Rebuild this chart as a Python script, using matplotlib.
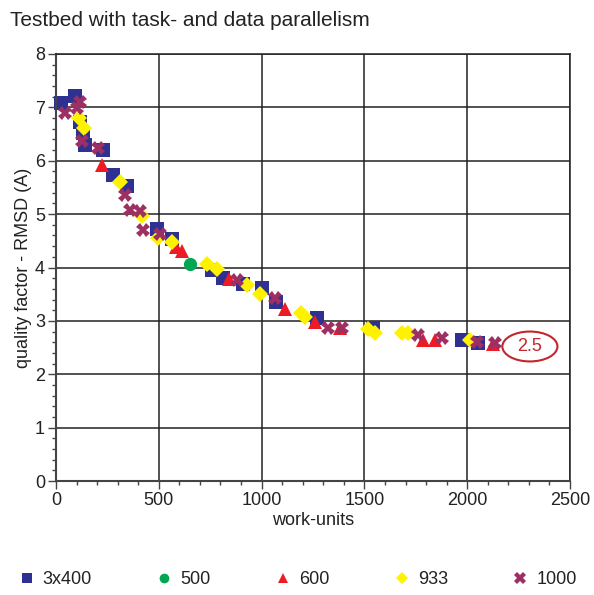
import matplotlib
matplotlib.use("Agg")
import matplotlib.pyplot as plt
from matplotlib.patches import Ellipse
from matplotlib.ticker import MultipleLocator
from matplotlib.lines import Line2D

plt.rcParams['font.family'] = ['Liberation Sans', 'DejaVu Sans']

title = "Testbed with task- and data parallelism"
xlabel = "work-units"
ylabel = "quality factor - RMSD (A)"

# series: 3x400 (squares)
sq_x = [23, 92, 117, 133, 141, 230, 279, 345, 490, 563, 757, 814, 911, 1000, 1070, 1268, 1544, 1973, 2054]
sq_y = [7.08, 7.22, 6.73, 6.52, 6.29, 6.20, 5.73, 5.52, 4.72, 4.53, 3.96, 3.80, 3.70, 3.61, 3.35, 3.05, 2.87, 2.64, 2.59]
# series: 500 (circle)
ci_x = [652]
ci_y = [4.07]
# series: 600 (triangles)
tr_x = [225, 585, 612, 843, 1114, 1260, 1381, 1783, 1843, 2127]
tr_y = [5.92, 4.38, 4.30, 3.78, 3.23, 2.97, 2.86, 2.65, 2.65, 2.56]
# series: 933 (diamonds)
di_x = [112, 135, 311, 417, 498, 563, 733, 781, 927, 992, 1190, 1211, 1519, 1552, 1681, 1713, 2014]
di_y = [6.80, 6.62, 5.61, 4.96, 4.55, 4.47, 4.07, 3.98, 3.67, 3.50, 3.15, 3.07, 2.84, 2.78, 2.77, 2.77, 2.64]
# series: 1000 (crosses)
cr_x = [44, 100, 117, 125, 206, 336, 360, 409, 425, 506, 879, 1065, 1324, 1390, 1762, 1876, 2046, 2135]
cr_y = [6.90, 6.99, 7.11, 6.37, 6.24, 5.36, 5.08, 5.05, 4.71, 4.63, 3.76, 3.42, 2.87, 2.87, 2.74, 2.67, 2.61, 2.59]

labels = ["3x400", "500", "600", "933", "1000"]
annot_text = "2.5"
annot_xy = (2305, 2.52)

C_SQ = "#2E3192"
C_CI = "#00A651"
C_TR = "#ED1C24"
C_DI = "#FFF200"
C_CR = "#9E2F62"

fig = plt.figure(figsize=(5.94, 5.95), dpi=100)
ax = fig.add_axes([56/594, 1-481/595, 514/594, 427/595])

ax.set_xlim(0, 2500)
ax.set_ylim(0, 8)
ax.xaxis.set_major_locator(MultipleLocator(500))
ax.xaxis.set_minor_locator(MultipleLocator(100))
ax.yaxis.set_major_locator(MultipleLocator(1))
ax.yaxis.set_minor_locator(MultipleLocator(0.2))
ax.grid(True, which='major', color='#222222', linewidth=1.1)
ax.set_axisbelow(True)

for s in ['top', 'right']:
    ax.spines[s].set_color('#222222')
    ax.spines[s].set_linewidth(1.1)
for s in ['left', 'bottom']:
    ax.spines[s].set_color('#444444')
    ax.spines[s].set_linewidth(1.5)

ax.tick_params(axis='both', which='major', direction='out', length=6, width=1, color='#444444',
               labelsize=13, labelcolor='#222222', pad=2)
ax.tick_params(axis='both', which='minor', direction='out', length=3, width=1, color='#444444')
ax.tick_params(top=False, right=False, which='both')

kw = dict(linestyle='none', clip_on=False, markeredgewidth=0)
ax.plot(sq_x, sq_y, marker='s', color=C_SQ, markersize=9.5, **kw)
ax.plot(ci_x, ci_y, marker='o', color=C_CI, markersize=9.5, **kw)
ax.plot(tr_x, tr_y, marker='^', color=C_TR, markersize=10, **kw)
ax.plot(di_x, di_y, marker='D', color=C_DI, markersize=8, **kw)
ax.plot(cr_x, cr_y, marker='X', color=C_CR, markersize=10, **kw)

ell = Ellipse(annot_xy, width=268, height=0.56, fill=False, edgecolor='#C1272D', linewidth=1.5)
ax.add_patch(ell)
ax.text(annot_xy[0], annot_xy[1], annot_text, color='#C1272D', fontsize=13, ha='center', va='center')

ax.set_xlabel(xlabel, fontsize=13, color='#222222', labelpad=2)
ax.set_ylabel(ylabel, fontsize=13, color='#222222', labelpad=2)
fig.text(10/594, 1-20/595, title, fontsize=15, color='#222222', ha='left', va='center')

handles = [
    Line2D([], [], linestyle='none', marker='s', color=C_SQ, markersize=7, markeredgewidth=0),
    Line2D([], [], linestyle='none', marker='o', color=C_CI, markersize=7, markeredgewidth=0),
    Line2D([], [], linestyle='none', marker='^', color=C_TR, markersize=7.5, markeredgewidth=0),
    Line2D([], [], linestyle='none', marker='D', color=C_DI, markersize=6, markeredgewidth=0),
    Line2D([], [], linestyle='none', marker='X', color=C_CR, markersize=8, markeredgewidth=0),
]
fig.legend(handles, labels, loc='center', bbox_to_anchor=(0.502, 1-580/595), ncol=5, frameon=False,
           fontsize=13, handlelength=0.8, handletextpad=0.5, columnspacing=3.6, labelcolor='#222222')

fig.savefig("out.png", dpi=100)
